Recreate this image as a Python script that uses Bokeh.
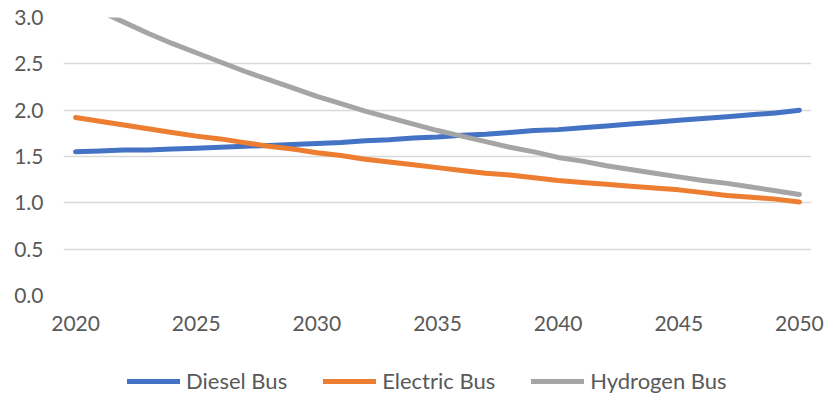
from bokeh.plotting import figure
from bokeh.layouts import column
from bokeh.models import (Range1d, FixedTicker, NumeralTickFormatter, Legend,
                          LegendItem, ColumnDataSource)
from bokeh.embed import file_html
from bokeh.resources import INLINE

# Cost index per year for each bus technology
years = list(range(2020, 2051))

diesel_bus = [1.55, 1.56, 1.57, 1.57, 1.58, 1.59, 1.60, 1.61, 1.62, 1.63,
              1.64, 1.65, 1.67, 1.68, 1.70, 1.71, 1.73, 1.74, 1.76, 1.78,
              1.79, 1.81, 1.83, 1.85, 1.87, 1.89, 1.91, 1.93, 1.95, 1.97,
              2.00]

electric_bus = [1.92, 1.88, 1.84, 1.80, 1.76, 1.72, 1.69, 1.65, 1.61, 1.58,
                1.54, 1.51, 1.47, 1.44, 1.41, 1.38, 1.35, 1.32, 1.30, 1.27,
                1.24, 1.22, 1.20, 1.18, 1.16, 1.14, 1.11, 1.08, 1.06, 1.04,
                1.01]

hydrogen_bus = [3.20, 3.07, 2.95, 2.83, 2.72, 2.62, 2.52, 2.42, 2.33, 2.24,
                2.15, 2.07, 1.99, 1.92, 1.85, 1.78, 1.72, 1.66, 1.60, 1.55,
                1.49, 1.45, 1.40, 1.36, 1.32, 1.28, 1.24, 1.21, 1.17, 1.13,
                1.09]

series_cols = ["diesel", "electric", "hydrogen"]
series_names = ["Diesel Bus", "Electric Bus", "Hydrogen Bus"]
series_colors = ["#4472C4", "#ED7D31", "#A5A5A5"]

x_ticks = [2020, 2025, 2030, 2035, 2040, 2045, 2050]
y_ticks = [0.0, 0.5, 1.0, 1.5, 2.0, 2.5, 3.0]

FONT = "Lato"
TEXT_COLOR = "#595959"

source = ColumnDataSource(dict(year=years, diesel=diesel_bus,
                               electric=electric_bus, hydrogen=hydrogen_bus))

# Main chart
p = figure(width=825, height=345, output_backend="svg", toolbar_location=None,
           x_range=Range1d(2019.5, 2050.5), y_range=Range1d(0, 3.0),
           min_border_left=63, min_border_right=14, min_border_top=17,
           min_border_bottom=50, outline_line_color=None,
           background_fill_color="white", border_fill_color="white")

for col, color in zip(series_cols, series_colors):
    p.line("year", col, source=source, line_color=color, line_width=5,
           line_cap="round", line_join="round")

p.xaxis.ticker = FixedTicker(ticks=x_ticks)
p.yaxis.ticker = FixedTicker(ticks=y_ticks)
p.yaxis.formatter = NumeralTickFormatter(format="0.0")
for ax in (p.xaxis, p.yaxis):
    ax.axis_line_color = None
    ax.major_tick_line_color = None
    ax.minor_tick_line_color = None
    ax.major_tick_out = 0
    ax.major_tick_in = 0
    ax.major_label_text_font = FONT
    ax.major_label_text_font_size = "21px"
    ax.major_label_text_color = TEXT_COLOR
p.yaxis.major_label_standoff = 20
p.xaxis.major_label_standoff = 20

p.xgrid.grid_line_color = None
p.ygrid.grid_line_color = "#D9D9D9"
p.ygrid.grid_line_width = 1.5

# Legend strip under the chart; its key lines share the series styling and
# sit outside this strip's visible y-range, so only the legend shows
leg = figure(width=825, height=49, output_backend="svg", toolbar_location=None,
             x_range=Range1d(2019.5, 2050.5), y_range=Range1d(10, 11),
             x_axis_type=None, y_axis_type=None,
             min_border_left=0, min_border_right=0, min_border_top=0,
             min_border_bottom=0, outline_line_color=None,
             background_fill_color="white", border_fill_color="white")
leg.xgrid.grid_line_color = None
leg.ygrid.grid_line_color = None

key_renderers = [leg.line("year", col, source=source, line_color=c,
                          line_width=5, line_cap="round")
                 for col, c in zip(series_cols, series_colors)]

legend = Legend(items=[LegendItem(label=n, renderers=[r])
                       for n, r in zip(series_names, key_renderers)],
                orientation="horizontal", location=(64, 0),
                glyph_width=53, glyph_height=20, label_standoff=6,
                spacing=36, padding=0, margin=0,
                label_text_font=FONT, label_text_font_size="22px",
                label_text_color=TEXT_COLOR, border_line_color=None,
                background_fill_alpha=0)
leg.add_layout(legend)

layout = column(p, leg, spacing=0)

open("out.html", "w").write(file_html(layout, INLINE))
